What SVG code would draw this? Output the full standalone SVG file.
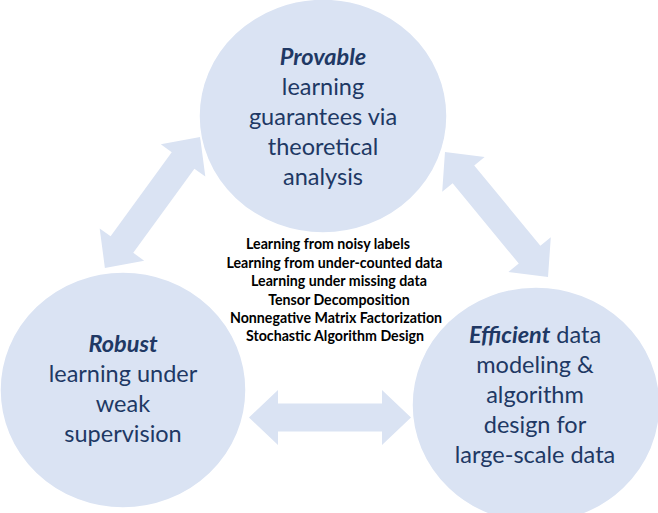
<svg xmlns="http://www.w3.org/2000/svg" width="658" height="513" viewBox="0 0 658 513">
<defs>
<style>
.node{fill:#dae3f3;stroke:#ffffff;stroke-width:1.5}
.arrow{fill:#dae3f3}
.t{font-family:Lato,"Open Sans","Liberation Sans",sans-serif;font-size:23.5px;fill:#203864;text-anchor:middle}
.b{font-weight:bold;font-style:italic}
.m{font-family:Lato,"Open Sans","Liberation Sans",sans-serif;font-size:14.2px;font-weight:bold;fill:#000000;text-anchor:middle}
</style>
<polygon id="dbl" points="-81,0 -52,-27.5 -52,-14 52,-14 52,-27.5 81,0 52,27.5 52,14 -52,14 -52,27.5"/>
</defs>
<rect width="658" height="513" fill="#ffffff"/>
<g id="connectors">
<use href="#dbl" class="arrow" transform="translate(152.5,202.5) rotate(-54)"/>
<use href="#dbl" class="arrow" transform="translate(496.5,214.5) rotate(50.5)"/>
<use href="#dbl" class="arrow" transform="translate(330,417.5)"/>
</g>
<g id="node-provable">
<ellipse class="node" cx="323" cy="116" rx="124" ry="117"/>
<text class="t" x="323" y="65"><tspan class="b">Provable</tspan></text>
<text class="t" x="323" y="95">learning</text>
<text class="t" x="323" y="125">guarantees via</text>
<text class="t" x="323" y="155">theoretical</text>
<text class="t" x="323" y="185">analysis</text>
</g>
<g id="node-robust">
<ellipse class="node" cx="123" cy="390" rx="123" ry="118"/>
<text class="t" x="123" y="352"><tspan class="b">Robust</tspan></text>
<text class="t" x="123" y="382">learning under</text>
<text class="t" x="123" y="412">weak</text>
<text class="t" x="123" y="442">supervision</text>
</g>
<g id="node-efficient">
<ellipse class="node" cx="536" cy="405" rx="124" ry="118"/>
<text class="t" x="535" y="343"><tspan class="b">Efficient</tspan> data</text>
<text class="t" x="535" y="373">modeling &amp;</text>
<text class="t" x="535" y="403">algorithm</text>
<text class="t" x="535" y="433">design for</text>
<text class="t" x="535" y="463">large-scale data</text>
</g>
<g id="topics">
<text class="m" x="328" y="249">Learning from noisy labels</text>
<text class="m" x="334.5" y="267.5">Learning from under-counted data</text>
<text class="m" x="339" y="286">Learning under missing data</text>
<text class="m" x="339" y="304.5">Tensor Decomposition</text>
<text class="m" x="336" y="323">Nonnegative Matrix Factorization</text>
<text class="m" x="335" y="341">Stochastic Algorithm Design</text>
</g>
</svg>
